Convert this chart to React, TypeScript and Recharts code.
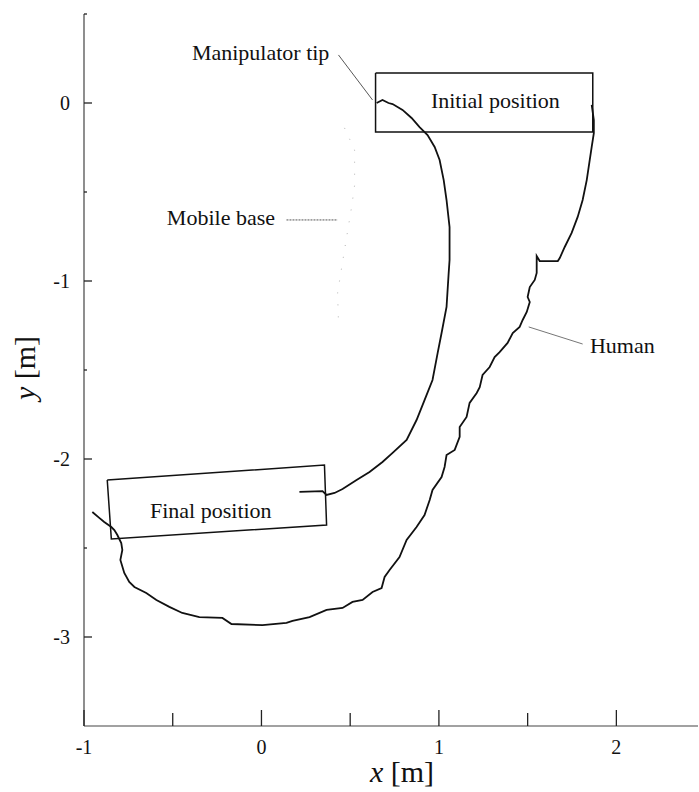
import React from 'react';
import { ComposedChart, Line, Scatter, XAxis, YAxis } from 'recharts';

// Trajectory of the manipulator tip [m]
const manipulatorTip = [
  { x: 0.649, y: 0.0 }, { x: 0.682, y: 0.017 }, { x: 0.716, y: 0.0 }, { x: 0.739, y: -0.006 },
  { x: 0.795, y: -0.039 }, { x: 0.846, y: -0.084 }, { x: 0.891, y: -0.135 }, { x: 0.936, y: -0.18 },
  { x: 0.976, y: -0.247 }, { x: 1.004, y: -0.32 }, { x: 1.027, y: -0.433 }, { x: 1.043, y: -0.545 },
  { x: 1.06, y: -0.697 }, { x: 1.06, y: -0.882 }, { x: 1.055, y: -0.955 }, { x: 1.043, y: -1.146 },
  { x: 1.015, y: -1.292 }, { x: 0.993, y: -1.404 }, { x: 0.964, y: -1.556 }, { x: 0.919, y: -1.669 },
  { x: 0.874, y: -1.781 }, { x: 0.818, y: -1.893 }, { x: 0.739, y: -1.966 }, { x: 0.682, y: -2.017 },
  { x: 0.609, y: -2.073 }, { x: 0.536, y: -2.118 }, { x: 0.457, y: -2.169 }, { x: 0.412, y: -2.191 },
  { x: 0.367, y: -2.202 }, { x: 0.344, y: -2.18 }, { x: 0.214, y: -2.185 },
];

// Trajectory of the human [m]
const human = [
  { x: 1.861, y: -0.011 }, { x: 1.873, y: -0.096 }, { x: 1.873, y: -0.169 }, { x: 1.861, y: -0.247 },
  { x: 1.85, y: -0.32 }, { x: 1.833, y: -0.433 }, { x: 1.81, y: -0.545 }, { x: 1.782, y: -0.64 },
  { x: 1.748, y: -0.73 }, { x: 1.709, y: -0.809 }, { x: 1.681, y: -0.871 }, { x: 1.67, y: -0.888 },
  { x: 1.568, y: -0.888 }, { x: 1.551, y: -0.86 }, { x: 1.551, y: -0.955 }, { x: 1.54, y: -0.994 },
  { x: 1.512, y: -1.034 }, { x: 1.5, y: -1.09 }, { x: 1.512, y: -1.118 }, { x: 1.495, y: -1.174 },
  { x: 1.472, y: -1.219 }, { x: 1.455, y: -1.258 }, { x: 1.416, y: -1.292 }, { x: 1.387, y: -1.348 },
  { x: 1.342, y: -1.399 }, { x: 1.314, y: -1.427 }, { x: 1.286, y: -1.483 }, { x: 1.246, y: -1.528 },
  { x: 1.23, y: -1.596 }, { x: 1.213, y: -1.629 }, { x: 1.173, y: -1.685 }, { x: 1.156, y: -1.764 },
  { x: 1.117, y: -1.82 }, { x: 1.117, y: -1.876 }, { x: 1.089, y: -1.949 }, { x: 1.043, y: -1.978 },
  { x: 1.032, y: -2.045 }, { x: 1.015, y: -2.101 }, { x: 0.964, y: -2.174 }, { x: 0.948, y: -2.23 },
  { x: 0.919, y: -2.315 }, { x: 0.874, y: -2.382 }, { x: 0.818, y: -2.455 }, { x: 0.778, y: -2.551 },
  { x: 0.722, y: -2.624 }, { x: 0.694, y: -2.663 }, { x: 0.677, y: -2.725 }, { x: 0.626, y: -2.747 },
  { x: 0.57, y: -2.792 }, { x: 0.513, y: -2.803 }, { x: 0.457, y: -2.837 }, { x: 0.367, y: -2.848 },
  { x: 0.271, y: -2.888 }, { x: 0.175, y: -2.91 }, { x: 0.141, y: -2.921 }, { x: 0.006, y: -2.933 },
  { x: -0.169, y: -2.927 }, { x: -0.22, y: -2.893 }, { x: -0.35, y: -2.888 }, { x: -0.446, y: -2.865 },
  { x: -0.519, y: -2.831 }, { x: -0.592, y: -2.792 }, { x: -0.649, y: -2.753 }, { x: -0.716, y: -2.719 },
  { x: -0.745, y: -2.691 }, { x: -0.773, y: -2.64 }, { x: -0.795, y: -2.567 }, { x: -0.784, y: -2.511 },
  { x: -0.79, y: -2.472 }, { x: -0.812, y: -2.427 }, { x: -0.829, y: -2.399 }, { x: -0.846, y: -2.382 },
  { x: -0.886, y: -2.354 }, { x: -0.914, y: -2.331 }, { x: -0.953, y: -2.298 },
];

// Trajectory of the mobile base (faint dotted trace) [m]
const mobileBase = [
  { x: 0.468, y: -0.14 }, { x: 0.525, y: -0.264 }, { x: 0.525, y: -0.461 }, { x: 0.508, y: -0.584 },
  { x: 0.468, y: -0.826 }, { x: 0.429, y: -1.067 }, { x: 0.434, y: -1.23 },
];

// Outline of the initial and final positions
const initialBox = [
  { x: 0.643, y: 0.169 }, { x: 1.867, y: 0.169 }, { x: 1.867, y: -0.163 },
  { x: 0.643, y: -0.163 }, { x: 0.643, y: 0.169 },
];
const finalBox = [
  { x: -0.869, y: -2.118 }, { x: 0.355, y: -2.034 }, { x: 0.367, y: -2.371 },
  { x: -0.846, y: -2.449 }, { x: -0.869, y: -2.118 },
];

// Leader lines from labels to curves
const manipLeader = [{ x: 0.434, y: 0.27 }, { x: 0.626, y: 0.017 }];
const baseLeader = [{ x: 0.141, y: -0.657 }, { x: 0.429, y: -0.657 }];
const humanLeader = [{ x: 1.506, y: -1.258 }, { x: 1.81, y: -1.354 }];

// Text labels (start of baseline)
const notes = [
  { x: -0.392, y: 0.242, text: 'Manipulator tip' },
  { x: 0.955, y: -0.028, text: 'Initial position' },
  { x: -0.533, y: -0.685, text: 'Mobile base' },
  { x: -0.628, y: -2.331, text: 'Final position' },
  { x: 1.851, y: -1.404, text: 'Human' },
];

const xTicks = [-1, -0.5, 0, 0.5, 1, 1.5, 2];
const yTicks = [-3, -2.5, -2, -1.5, -1, -0.5, 0, 0.5];

const FONT = '"Liberation Serif", "DejaVu Serif", serif';
const INK = '#111';

const YTick = (props: any) => {
  const { x, y, payload } = props;
  const v = payload.value as number;
  const major = Number.isInteger(v);
  const axisX = x + 14;
  return (
    <g>
      <line x1={axisX} x2={axisX + (major ? 8 : 3)} y1={y} y2={y} stroke="#222" strokeWidth={1.3} />
      {major && (
        <text x={x} y={y} dy="0.34em" textAnchor="end" fontFamily={FONT} fontSize={20} fill={INK}>
          {String(v)}
        </text>
      )}
    </g>
  );
};

const XTick = (props: any) => {
  const { x, y, payload } = props;
  const v = payload.value as number;
  const major = Number.isInteger(v);
  return (
    <g>
      <line x1={x} x2={x} y1={y} y2={y - (major ? 16 : 13)} stroke="#222" strokeWidth={1.3} />
      {major && (
        <text x={x} y={y + 28} textAnchor="middle" fontFamily={FONT} fontSize={20} fill={INK}>
          {String(v)}
        </text>
      )}
    </g>
  );
};

const NoteShape = (p: any) => (
  <text x={p.cx} y={p.cy} fontFamily={FONT} fontSize={22} fill={INK}>
    {p.payload.text}
  </text>
);

const XTitle = (p: any) => {
  const vb = p.viewBox;
  return (
    <text x={vb.x + vb.width / 2 + 11} y={782} textAnchor="middle" fontFamily={FONT} fontSize={30} fill={INK}>
      <tspan fontStyle="italic">x</tspan>
      <tspan> [m]</tspan>
    </text>
  );
};

const YTitle = (p: any) => {
  const vb = p.viewBox;
  const cy = vb.y + vb.height / 2 - 2;
  return (
    <text
      x={35}
      y={cy}
      transform={`rotate(-90, 35, ${cy})`}
      textAnchor="middle"
      fontFamily={FONT}
      fontSize={30}
      fill={INK}
    >
      <tspan fontStyle="italic">y</tspan>
      <tspan> [m]</tspan>
    </text>
  );
};

export default function App() {
  return (
    <div style={{ position: 'absolute', left: 0, top: 0, width: 699, height: 792, background: '#fff' }}>
      <ComposedChart width={699} height={792} margin={{ top: 14, right: 1, bottom: 0, left: 0 }}>
        <XAxis
          type="number"
          dataKey="x"
          domain={[-1, 2.46]}
          allowDataOverflow
          ticks={xTicks}
          interval={0}
          height={66}
          tickSize={0}
          tickMargin={0}
          tickLine={false}
          tick={<XTick />}
          axisLine={{ stroke: '#444', strokeWidth: 1.2 }}
          label={{ content: <XTitle /> }}
        />
        <YAxis
          type="number"
          dataKey="y"
          domain={[-3.5, 0.5]}
          allowDataOverflow
          ticks={yTicks}
          interval={0}
          width={84}
          tickSize={0}
          tickMargin={14}
          tickLine={false}
          tick={<YTick />}
          axisLine={{ stroke: '#444', strokeWidth: 1.2 }}
          label={{ content: <YTitle /> }}
        />
        <Line data={mobileBase} dataKey="y" stroke="#b4b4b4" strokeWidth={1} strokeDasharray="1 11" dot={false} activeDot={false} isAnimationActive={false} />
        <Line data={initialBox} dataKey="y" stroke={INK} strokeWidth={1.5} dot={false} activeDot={false} isAnimationActive={false} />
        <Line data={finalBox} dataKey="y" stroke={INK} strokeWidth={1.5} dot={false} activeDot={false} isAnimationActive={false} />
        <Line data={manipulatorTip} dataKey="y" stroke={INK} strokeWidth={1.8} dot={false} activeDot={false} isAnimationActive={false} />
        <Line data={human} dataKey="y" stroke={INK} strokeWidth={1.8} dot={false} activeDot={false} isAnimationActive={false} />
        <Line data={manipLeader} dataKey="y" stroke="#444" strokeWidth={0.9} dot={false} activeDot={false} isAnimationActive={false} />
        <Line data={baseLeader} dataKey="y" stroke="#555" strokeWidth={1} strokeDasharray="2 1" dot={false} activeDot={false} isAnimationActive={false} />
        <Line data={humanLeader} dataKey="y" stroke="#666" strokeWidth={0.9} dot={false} activeDot={false} isAnimationActive={false} />
        <Scatter data={notes} dataKey="y" shape={<NoteShape />} isAnimationActive={false} />
      </ComposedChart>
    </div>
  );
}
